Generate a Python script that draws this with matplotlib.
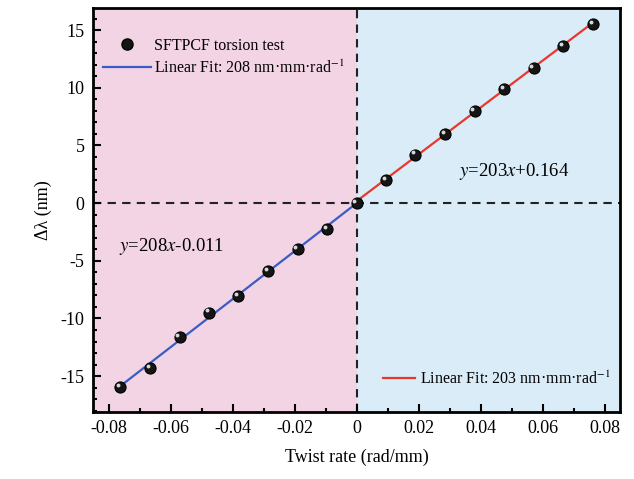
import matplotlib
matplotlib.use("Agg")
import matplotlib.pyplot as plt
import matplotlib.transforms as mtransforms
from matplotlib.lines import Line2D
import numpy as np

plt.rcParams['font.family'] = ['Liberation Serif', 'DejaVu Serif']
plt.rcParams['mathtext.fontset'] = 'stix'
plt.rcParams['axes.unicode_minus'] = False

# Data
x_neg = [-0.0762, -0.0667, -0.0571, -0.0476, -0.0381, -0.0286, -0.0190, -0.0095, 0.0]
y_neg = [-15.96, -14.3, -11.6, -9.5, -8.05, -5.9, -4.0, -2.25, 0.0]
x_pos = [0.0095, 0.0190, 0.0286, 0.0381, 0.0476, 0.0571, 0.0667, 0.0762]
y_pos = [2.0, 4.2, 5.95, 8.0, 9.9, 11.7, 13.6, 15.5]

fit_neg = (208, -0.011)
fit_pos = (203, 0.164)
x_ticks = [-0.08, -0.06, -0.04, -0.02, 0, 0.02, 0.04, 0.06, 0.08]
x_ticklabels = ['-0.08', '-0.06', '-0.04', '-0.02', '0', '0.02', '0.04', '0.06', '0.08']
y_ticks = [-15, -10, -5, 0, 5, 10, 15]
y_ticklabels = ['-15', '-10', '-5', '0', '5', '10', '15']

fig = plt.figure(figsize=(6.34, 4.79), dpi=100)
ax = fig.add_axes([0.1467, 0.140, 0.8313, 0.843])
xlim = (-0.085, 0.085)
ylim = (-18.1, 16.9)
ax.set_xlim(*xlim)
ax.set_ylim(*ylim)

ax.axvspan(xlim[0], 0, color='#f2d4e4', zorder=0, lw=0)
ax.axvspan(0, xlim[1], color='#daecf7', zorder=0, lw=0)

ax.axvline(0, color='#222222', ls=(0, (4, 3)), lw=1.5, zorder=1)
ax.axhline(0, color='#222222', ls=(0, (4, 3)), lw=1.5, zorder=1)

# fit lines
xn = np.array([x_neg[0], x_neg[-1]])
xp = np.array([0.0, x_pos[-1]])
ax.plot(xn, fit_neg[0] * xn + fit_neg[1], color='#3a5cc4', lw=1.6, zorder=2)
ax.plot(xp, fit_pos[0] * xp + fit_pos[1], color='#e8382e', lw=1.6, zorder=2)

xs = x_neg + x_pos
ys = y_neg + y_pos
ax.plot(xs, ys, 'o', ms=8, mfc='#151515', mec='#000000', mew=0.8, ls='none', zorder=3)
off = mtransforms.offset_copy(ax.transData, fig=fig, x=-1.6, y=1.6, units='points')
ax.plot(xs, ys, 'o', ms=2.8, mfc='#d8d8d8', mec='none', ls='none', zorder=4, transform=off)

# legends
h1 = Line2D([], [], marker='o', ms=8, mfc='#151515', mec='black', ls='none')
h2 = Line2D([], [], color='#3a5cc4', lw=1.6)
leg1 = ax.legend([h1, h2], ['SFTPCF torsion test', 'Linear Fit: 208 nm·mm·rad$^{-1}$'],
                 loc='upper left', bbox_to_anchor=(0.0, 0.95), frameon=False, fontsize=11.5,
                 handlelength=3.0, handletextpad=0.2, labelspacing=0.35, borderaxespad=0.2)
ax.add_artist(leg1)
h3 = Line2D([], [], color='#e8382e', lw=1.6)
ax.legend([h3], ['Linear Fit: 203 nm·mm·rad$^{-1}$'], loc='lower right',
          bbox_to_anchor=(1.0, 0.036), frameon=False, fontsize=11.5,
          handlelength=2.0, handletextpad=0.3, borderaxespad=0.2)

ax.text(-0.0765, -3.8, '$\\mathit{y}$=208$\\mathit{x}$-0.011', fontsize=13.5, va='center', ha='left')
ax.text(0.0330, 2.75, '$\\mathit{y}$=203$\\mathit{x}$+0.164', fontsize=13.5, va='center', ha='left')

ax.set_xticks(x_ticks)
ax.set_xticklabels(x_ticklabels)
ax.set_yticks(y_ticks)
ax.set_yticklabels(y_ticklabels)
ax.set_xticks(np.arange(-0.07, 0.08, 0.02), minor=True)
ax.set_yticks(np.arange(-18, 17, 1), minor=True)
ax.tick_params(which='both', direction='in', width=1.5, labelsize=13)
ax.tick_params(which='major', length=6, pad=6)
ax.tick_params(which='minor', length=3)
for s in ax.spines.values():
    s.set_linewidth(2)

ax.set_xlabel('Twist rate (rad/mm)', fontsize=13, labelpad=8)
ax.set_ylabel('Δλ (nm)', fontsize=13, labelpad=6)

fig.savefig('out.png', dpi=100)
